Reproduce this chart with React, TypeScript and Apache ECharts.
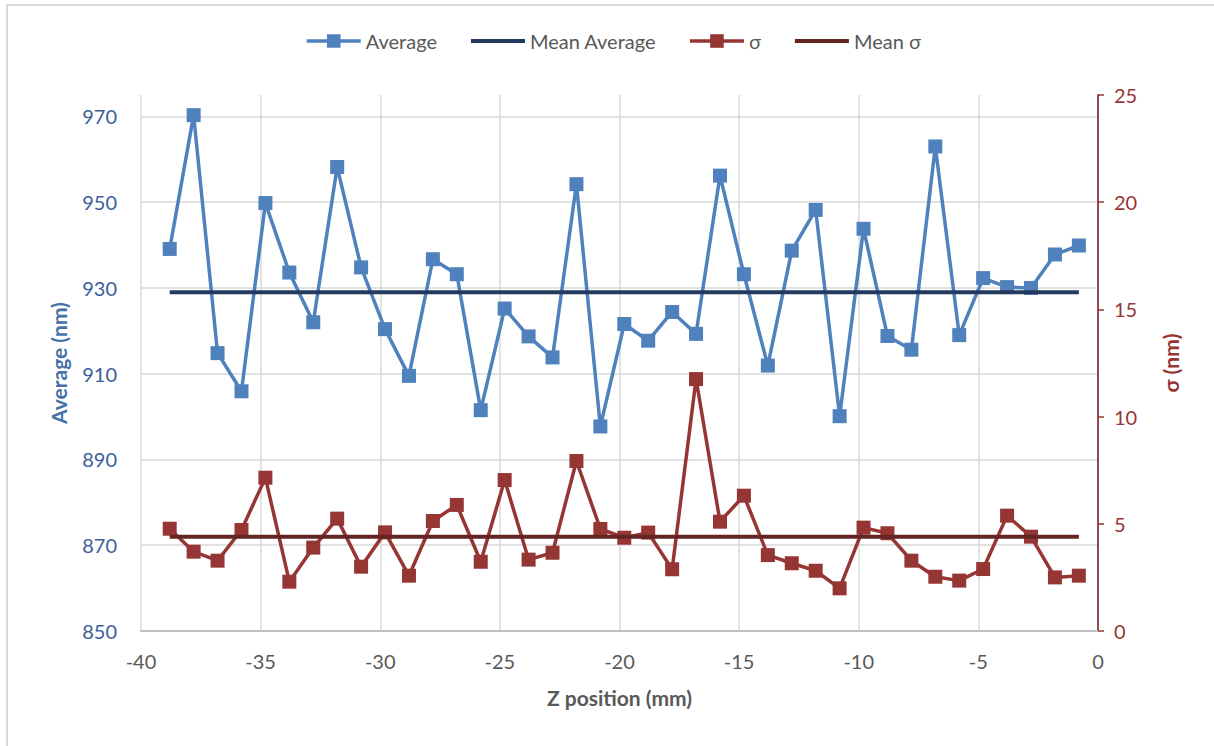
import { useEffect, useRef } from "react";
import * as echarts from "echarts";

// Z positions of the measurement points (mm)
const zPositions = [
  -38.8, -37.8, -36.8, -35.8, -34.8, -33.8, -32.8, -31.8, -30.8, -29.8,
  -28.8, -27.8, -26.8, -25.8, -24.8, -23.8, -22.8, -21.8, -20.8, -19.8,
  -18.8, -17.8, -16.8, -15.8, -14.8, -13.8, -12.8, -11.8, -10.8, -9.8,
  -8.8, -7.8, -6.8, -5.8, -4.8, -3.8, -2.8, -1.8, -0.8,
];

// Average value at each position (nm)
const averageNm = [
  939.1, 970.3, 914.8, 905.9, 949.8, 933.6, 922.0, 958.2, 934.8, 920.4,
  909.5, 936.7, 933.2, 901.5, 925.2, 918.7, 913.8, 954.2, 897.7, 921.6,
  917.7, 924.4, 919.3, 956.2, 933.2, 911.9, 938.7, 948.2, 900.1, 943.8,
  918.8, 915.6, 963.0, 919.0, 932.3, 930.2, 930.0, 937.8, 939.9,
];

// Standard deviation at each position (nm)
const sigmaNm = [
  4.77, 3.7, 3.28, 4.71, 7.15, 2.3, 3.89, 5.24, 3.0, 4.6,
  2.58, 5.13, 5.88, 3.23, 7.04, 3.33, 3.65, 7.93, 4.76, 4.35,
  4.59, 2.88, 11.75, 5.1, 6.31, 3.54, 3.16, 2.81, 1.99, 4.82,
  4.56, 3.28, 2.53, 2.35, 2.89, 5.38, 4.4, 2.5, 2.58,
];

const meanAverageNm = 929.0;
const meanSigmaNm = 4.4;

// Axis ranges: [min, max, step]
const zAxisRange = [-40, 0, 5];
const averageAxisRange = [850, 975, 20];
const sigmaAxisRange = [0, 25, 5];

const seriesNames = ["Average", "Mean Average", "σ", "Mean σ"];

const FONT = "Lato, 'Open Sans', 'Liberation Sans', sans-serif";

export default function App() {
  const ref = useRef<HTMLDivElement>(null);

  useEffect(() => {
    if (!ref.current) return;
    const chart = echarts.init(ref.current, null, { renderer: "svg" });

    const averagePoints = zPositions.map((z, i) => [z, averageNm[i]]);
    const sigmaPoints = zPositions.map((z, i) => [z, sigmaNm[i]]);
    const zFirst = zPositions[0];
    const zLast = zPositions[zPositions.length - 1];

    chart.setOption({
      animation: false,
      backgroundColor: "#ffffff",
      textStyle: { fontFamily: FONT },
      graphic: [
        {
          type: "rect",
          shape: { x: 7, y: 5, width: 1230, height: 770 },
          style: { fill: "none", stroke: "#d9d9d9", lineWidth: 2 },
          silent: true,
        },
      ],
      legend: {
        top: 26,
        left: 300,
        itemWidth: 54,
        itemHeight: 17,
        itemGap: 32,
        lineStyle: { width: "inherit" },
        data: [
          { name: seriesNames[0] },
          { name: seriesNames[1], itemStyle: { opacity: 0 } },
          { name: seriesNames[2] },
          { name: seriesNames[3], itemStyle: { opacity: 0 } },
        ],
        textStyle: { fontSize: 20, color: "#595959", fontFamily: FONT },
      },
      grid: { left: 141, right: 116, top: 95, bottom: 115 },
      xAxis: {
        type: "value",
        min: zAxisRange[0],
        max: zAxisRange[1],
        interval: zAxisRange[2],
        name: "Z position (mm)",
        nameLocation: "middle",
        nameGap: 56,
        nameTextStyle: { fontSize: 21, fontWeight: "bold", color: "#595959", fontFamily: FONT },
        axisLine: { show: true, onZero: false, lineStyle: { color: "#bfbfbf", width: 2 } },
        axisTick: { show: false },
        axisLabel: { fontSize: 20, color: "#595959", margin: 20, fontFamily: FONT },
        splitLine: { show: true, lineStyle: { color: "#d9d9d9", width: 1.5 } },
      },
      yAxis: [
        {
          type: "value",
          position: "left",
          min: averageAxisRange[0],
          max: averageAxisRange[1],
          interval: averageAxisRange[2],
          name: "Average (nm)",
          nameLocation: "middle",
          nameRotate: 90,
          nameGap: 72,
          nameTextStyle: { fontSize: 21, fontWeight: "bold", color: "#4472a8", fontFamily: FONT },
          axisLine: { show: true, lineStyle: { color: "#4472a8", width: 1.5 } },
          axisTick: { show: false },
          axisLabel: { fontSize: 20, color: "#3b609a", margin: 24, showMaxLabel: false, fontFamily: FONT },
          splitLine: {
            show: true,
            showMaxLine: false,
            showMinLine: false,
            lineStyle: { color: "#d9d9d9", width: 1.5 },
          },
        },
        {
          type: "value",
          position: "right",
          min: sigmaAxisRange[0],
          max: sigmaAxisRange[1],
          interval: sigmaAxisRange[2],
          name: "σ (nm)",
          nameLocation: "middle",
          nameRotate: 90,
          nameGap: 62,
          nameTextStyle: { fontSize: 21, fontWeight: "bold", color: "#963634", fontFamily: FONT },
          axisLine: { show: true, lineStyle: { color: "#963634", width: 1.5 } },
          axisTick: { show: true, inside: false, length: 6, lineStyle: { color: "#963634", width: 1.5 } },
          axisLabel: { fontSize: 20, color: "#963634", margin: 16, fontFamily: FONT },
          splitLine: { show: false },
        },
      ],
      series: [
        {
          name: seriesNames[0],
          type: "line",
          yAxisIndex: 0,
          data: averagePoints,
          symbol: "rect",
          symbolSize: 14,
          color: "#4f81bd",
          lineStyle: { width: 3.5, color: "#4f81bd" },
          itemStyle: { color: "#4f81bd" },
          z: 2,
        },
        {
          name: seriesNames[1],
          type: "line",
          yAxisIndex: 0,
          data: [
            [zFirst, meanAverageNm],
            [zLast, meanAverageNm],
          ],
          symbol: "none",
          color: "#233a5e",
          lineStyle: { width: 4, color: "#233a5e" },
          z: 3,
        },
        {
          name: seriesNames[2],
          type: "line",
          yAxisIndex: 1,
          data: sigmaPoints,
          symbol: "rect",
          symbolSize: 14,
          color: "#963634",
          lineStyle: { width: 3.5, color: "#963634" },
          itemStyle: { color: "#963634" },
          z: 4,
        },
        {
          name: seriesNames[3],
          type: "line",
          yAxisIndex: 1,
          data: [
            [zFirst, meanSigmaNm],
            [zLast, meanSigmaNm],
          ],
          symbol: "none",
          color: "#632523",
          lineStyle: { width: 4, color: "#632523" },
          z: 5,
        },
      ],
    });

    return () => chart.dispose();
  }, []);

  return (
    <div
      ref={ref}
      style={{ position: "fixed", left: 0, top: 0, width: 1214, height: 746, background: "#fff" }}
    />
  );
}
